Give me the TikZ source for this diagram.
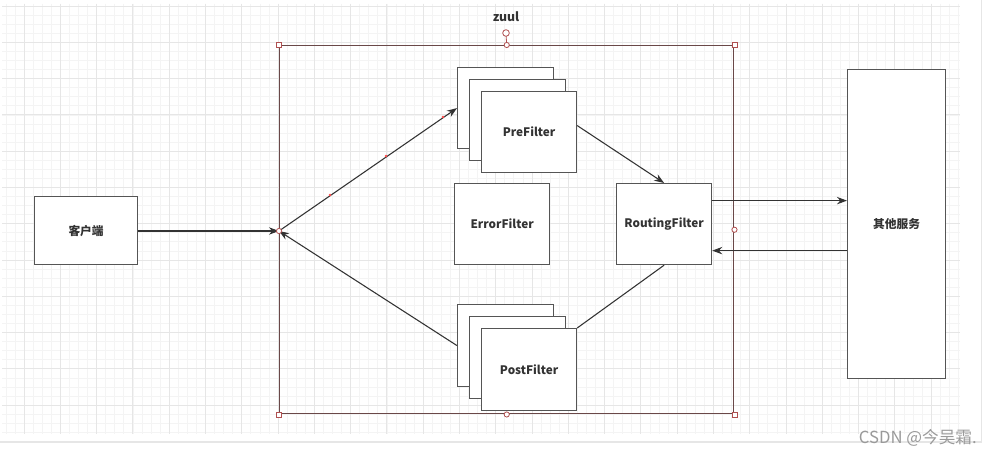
\documentclass[tikz,border=0pt]{standalone}
\usepackage{fontspec}
\setmainfont{Noto Sans CJK SC}
\newfontfamily\wmfont{Noto Sans CJK SC}
\usetikzlibrary{arrows.meta,calc}
\definecolor{boxline}{HTML}{555555}
\definecolor{arrline}{HTML}{333333}
\definecolor{selline}{HTML}{6A4848}
\definecolor{handle}{HTML}{B05050}
\definecolor{gridminor}{HTML}{F4F4F4}
\definecolor{gridmajor}{HTML}{E6E6E6}
\definecolor{wmgray}{HTML}{9A9A9A}
\begin{document}
\begin{tikzpicture}[x=0.75pt,y=-0.75pt,
  box/.style={draw=boxline,line width=0.9pt,fill=white,inner sep=0pt,anchor=north west,
    font=\fontsize{8.8}{10}\selectfont\bfseries,text=black!80},
  conn/.style={draw=arrline,line width=0.8pt},
  arr/.style={conn,-{Stealth[length=7.5pt,width=5.5pt]}},
  minorl/.style={gridminor,line width=0.5pt},
  majorl/.style={gridmajor,line width=0.6pt},
  hsq/.style={draw=handle,fill=white,line width=0.5pt},
  hci/.style={draw=handle,fill=white,line width=0.6pt},
  wp/.style={fill=red!70,draw=none}
]
\useasboundingbox (0,0) rectangle (982,456);
\fill[white] (0,0) rectangle (982,456);
% grid
\foreach \k in {0,...,105}{\pgfmathsetmacro\xx{5.9+9.07*\k}\draw[minorl] (\xx,4) -- (\xx,434);}
\foreach \k in {0,...,47}{\pgfmathsetmacro\yy{6+9.07*\k}\draw[minorl] (2,\yy) -- (960,\yy);}
\foreach \k in {2,6,...,102}{\pgfmathsetmacro\xx{5.9+9.07*\k}\draw[majorl] (\xx,4) -- (\xx,434);}
\foreach \k in {0,4,...,44}{\pgfmathsetmacro\yy{6+9.07*\k}\draw[majorl] (2,\yy) -- (960,\yy);}
\draw[gridmajor,line width=0.9pt] (0,442) -- (982,442);
\draw[gridmajor,line width=0.9pt] (981.5,0) -- (981.5,442);

% zuul container
\node[draw=selline,line width=1.1pt,inner sep=0pt,anchor=north west,
  minimum width=454*0.75pt,minimum height=368*0.75pt] (zuul) at (279,45) {};
\node[font=\fontsize{9.2}{11}\selectfont\bfseries,text=black!80] (zlabel) at (506,17) {zuul};
\coordinate (j) at (279,231);

% boxes
\node[box,minimum width=103*0.75pt,minimum height=68*0.75pt] (client) at (34,196) {客户端};
\node[box,minimum width=96*0.75pt,minimum height=81*0.75pt] (pre1) at (457,67) {};
\node[box,minimum width=96*0.75pt,minimum height=81*0.75pt] (pre2) at (469,79) {};
\node[box,minimum width=95*0.75pt,minimum height=81*0.75pt] (pre3) at (481,91) {PreFilter};
\node[box,minimum width=95*0.75pt,minimum height=81*0.75pt] (error) at (454,183) {ErrorFilter};
\node[box,minimum width=95*0.75pt,minimum height=81*0.75pt] (routing) at (616,183) {RoutingFilter};
\node[box,minimum width=96*0.75pt,minimum height=82*0.75pt] (post1) at (457,304) {};
\node[box,minimum width=96*0.75pt,minimum height=82*0.75pt] (post2) at (469,316) {};
\node[box,minimum width=95*0.75pt,minimum height=82*0.75pt] (post3) at (481,328) {PostFilter};
\node[box,minimum width=98*0.75pt,minimum height=309*0.75pt] (other) at (847,69) {其他服务};

% connectors
\draw[arr] (client.east |- j) -- (j);
\draw[arr] (j) -- (pre1.west);
\draw[arr] ([yshift=4.9pt]pre3.east) -- (routing.north);
\draw[arr] ([yshift=17.6pt]routing.east) -- ([yshift=17.6pt]routing.east -| other.west);
\draw[arr] ([yshift=-19.9pt]routing.east -| other.west) -- ([yshift=-19.9pt]routing.east);
\draw[conn] (routing.south) -- (post3.north east);
\draw[arr] (post1.west) -- (j);

% waypoint dots
\fill[wp] (330,195) circle (1.4);
\fill[wp] (386,156) circle (1.4);
\fill[wp] (443,117) circle (1.4);

% selection handles
\draw[handle,line width=0.6pt] (zuul.north) -- (506,34.5);
\draw[hci] (506,33) circle (3.3);
\foreach \p in {zuul.north,zuul.south,zuul.east}{\draw[hci] (\p) circle (2.6);}
\draw[hci] (j) circle (2.6);
\foreach \p in {zuul.north west,zuul.north east,zuul.south west,zuul.south east}{\draw[hsq] ($(\p)+(-2.5,-2.5)$) rectangle ($(\p)+(2.5,2.5)$);}

% watermark
\node[anchor=east,font=\wmfont\fontsize{12.5}{14}\selectfont,text=wmgray,inner sep=0pt] (wm) at (977,438) {CSDN @今吴霜.};
\end{tikzpicture}
\end{document}
